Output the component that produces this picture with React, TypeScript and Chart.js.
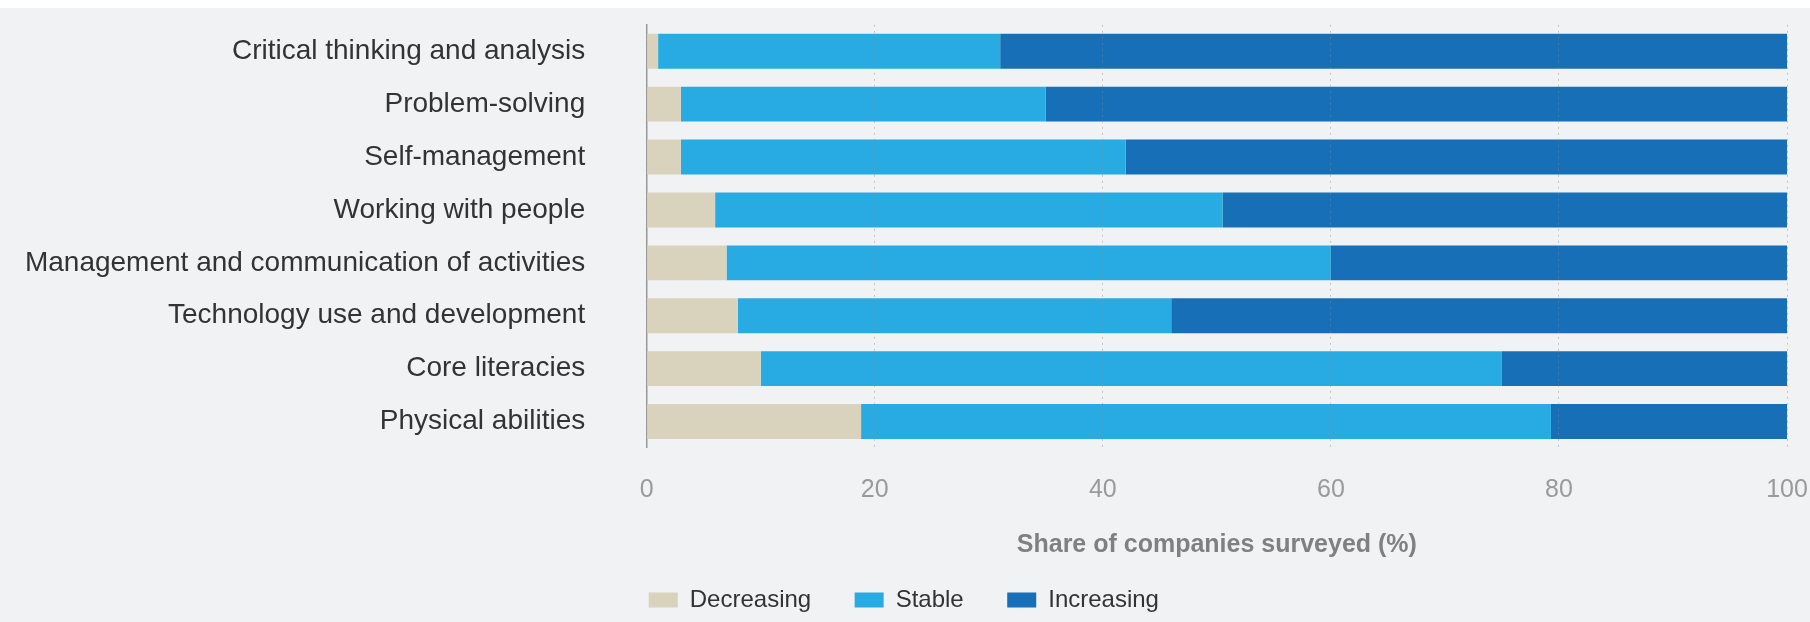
import React, { useEffect, useRef } from "react";
import { Chart, registerables } from "chart.js";

Chart.register(...registerables);

const categories = [
  "Critical thinking and analysis",
  "Problem-solving",
  "Self-management",
  "Working with people",
  "Management and communication of activities",
  "Technology use and development",
  "Core literacies",
  "Physical abilities",
];

const decreasing = [1, 3, 3, 6, 7, 8, 10, 18.8];
const stable = [30, 32, 39, 44.5, 53, 38, 65, 60.5];
const increasing = [69, 65, 58, 49.5, 40, 54, 25, 20.7];

const seriesNames = ["Decreasing", "Stable", "Increasing"];
const seriesColors = ["#d9d3bd", "#28abe2", "#176fb8"];

const xTicks = [0, 20, 40, 60, 80, 100];
const xTitle = "Share of companies surveyed (%)";

export default function App() {
  const ref = useRef<HTMLCanvasElement | null>(null);

  useEffect(() => {
    if (!ref.current) return;
    Chart.defaults.font.family = "'Liberation Sans', Arial, Helvetica, sans-serif";
    const values = [decreasing, stable, increasing];
    const chart = new Chart(ref.current, {
      type: "bar",
      data: {
        labels: categories,
        datasets: values.map((v, i) => ({
          label: seriesNames[i],
          data: v,
          backgroundColor: seriesColors[i],
          borderWidth: 0,
          categoryPercentage: 0.66,
          barPercentage: 1,
        })),
      },
      options: {
        indexAxis: "y",
        animation: false,
        responsive: true,
        maintainAspectRatio: false,
        layout: { padding: { left: 20.7, right: 23, top: 16.3, bottom: 0 } },
        plugins: {
          tooltip: { enabled: false },
          legend: {
            position: "bottom",
            align: "center",
            labels: {
              boxWidth: 29,
              boxHeight: 15,
              padding: 43.5,
              color: "#333333",
              font: { size: 24 },
            },
          },
        },
        scales: {
          x: {
            stacked: true,
            min: 0,
            max: 100,
            afterBuildTicks: (scale: any) => {
              scale.ticks = xTicks.map((v) => ({ value: v }));
            },
            grid: {
              color: "rgba(140,140,140,0.45)",
              lineWidth: 1,
              drawTicks: true,
              tickLength: 27,
              tickWidth: 0,
              tickColor: "rgba(0,0,0,0)",
              z: 1,
            },
            border: { display: false, dash: [2, 4] },
            ticks: {
              color: "#9a9a9a",
              font: { size: 25 },
              padding: 0,
              maxRotation: 0,
            },
            title: {
              display: true,
              text: xTitle,
              color: "#808080",
              font: { size: 25, weight: "bold" },
              padding: { top: 24.7, bottom: -15.2 },
            },
          },
          y: {
            stacked: true,
            grid: {
              display: true,
              drawOnChartArea: false,
              drawTicks: true,
              tickLength: 61.5,
              lineWidth: 0,
              tickWidth: 0,
              tickColor: "rgba(0,0,0,0)",
            },
            border: { display: true, color: "#9a9a9a", width: 1.5 },
            ticks: {
              color: "#333333",
              font: { size: 28 },
              padding: 0,
            },
            afterFit: (scale: any) => {
              scale.width = 626;
            },
          },
        },
      },
    });
    return () => chart.destroy();
  }, []);

  return (
    <div
      style={{
        position: "absolute",
        left: 0,
        top: 8,
        width: 1810,
        height: 614,
        background: "#f1f2f4",
      }}
    >
      <canvas ref={ref} />
    </div>
  );
}
